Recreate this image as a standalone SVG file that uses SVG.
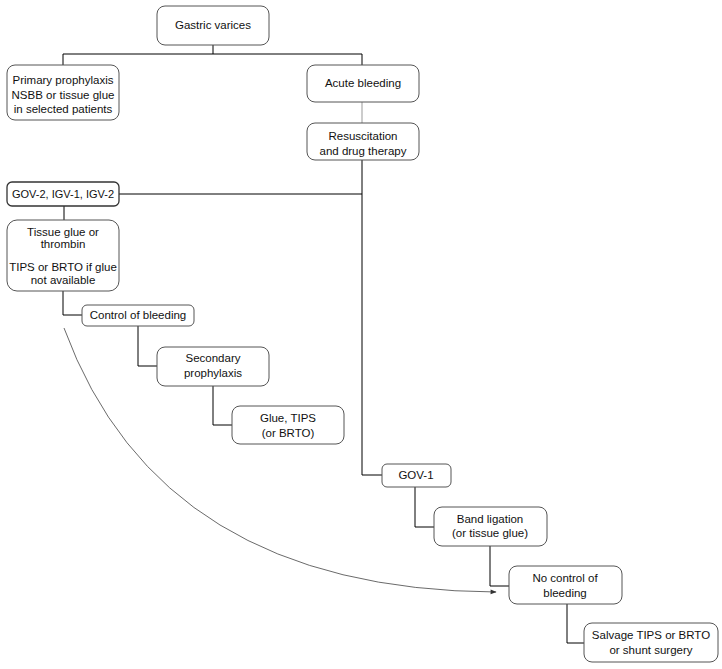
<svg xmlns="http://www.w3.org/2000/svg" width="722" height="669" viewBox="0 0 722 669">
<defs>
<style>
.box{fill:#fff;stroke:#555;stroke-width:1}
.dark{stroke:#333;stroke-width:1.3}
text{font-family:"Liberation Sans",Arial,sans-serif;font-size:11.5px;fill:#111;text-anchor:middle}
.ln{fill:none;stroke:#000;stroke-width:1}
.gray{stroke:#999}
.curve{fill:none;stroke:#444;stroke-width:0.8}
</style>
<marker id="arr" viewBox="0 0 10 10" refX="9" refY="5" markerWidth="8" markerHeight="6" orient="auto" markerUnits="userSpaceOnUse">
<path d="M0,1 L10,5 L0,9 Z" fill="#333"/>
</marker>
</defs>
<rect width="722" height="669" fill="#fff"/>
<g id="connectors">
<path class="ln" d="M213,45 V54 M63,54 H362 M63,54 V65 M362,54 V65"/>
<path class="ln gray" d="M362,102 V123"/>
<path class="ln" d="M362,160 V475 H382 M119,194 H362"/>
<path class="ln" d="M64,206 V220"/>
<path class="ln" d="M63,291 V315 H82"/>
<path class="ln" d="M138,326 V366 H157"/>
<path class="ln" d="M213,386 V425 H232"/>
<path class="ln" d="M415,487 V527 H434"/>
<path class="ln" d="M490,546 V586 H509"/>
<path class="ln" d="M567,604 V643 H584"/>
<path class="curve" d="M64,328 Q160,590 496,592" marker-end="url(#arr)"/>
</g>
<g id="gastric"><rect class="box" x="157" y="6" width="112" height="39" rx="8"/><text x="213" y="29">Gastric varices</text></g>
<g id="primary"><rect class="box" x="7" y="65" width="112" height="55" rx="8"/>
<text x="63" y="84">Primary prophylaxis</text><text x="63" y="99">NSBB or tissue glue</text><text x="63" y="113">in selected patients</text></g>
<g id="acute"><rect class="box" x="307" y="65" width="112" height="37" rx="8"/><text x="363" y="87">Acute bleeding</text></g>
<g id="resus"><rect class="box" x="307" y="123" width="112" height="37" rx="8"/><text x="363" y="140">Resuscitation</text><text x="363" y="155">and drug therapy</text></g>
<g id="gov2"><rect class="box dark" x="7" y="182" width="112" height="24" rx="5"/><text x="63" y="198" style="font-size:11px">GOV-2, IGV-1, IGV-2</text></g>
<g id="tissue"><rect class="box" x="7" y="220" width="112" height="71" rx="10"/>
<text x="63" y="236">Tissue glue or</text><text x="63" y="248">thrombin</text><text x="63" y="271">TIPS or BRTO if glue</text><text x="63" y="284">not available</text></g>
<g id="control"><rect class="box" x="82" y="305" width="112" height="21" rx="5"/><text x="138" y="319">Control of bleeding</text></g>
<g id="secondary"><rect class="box" x="157" y="347" width="112" height="39" rx="8"/><text x="213" y="362">Secondary</text><text x="213" y="377">prophylaxis</text></g>
<g id="gluetips"><rect class="box" x="232" y="406" width="112" height="38" rx="8"/><text x="288" y="422">Glue, TIPS</text><text x="288" y="437">(or BRTO)</text></g>
<g id="gov1"><rect class="box" x="382" y="464" width="69" height="23" rx="5"/><text x="416" y="479">GOV-1</text></g>
<g id="band"><rect class="box" x="434" y="507" width="113" height="39" rx="8"/><text x="490" y="523">Band ligation</text><text x="490" y="537">(or tissue glue)</text></g>
<g id="nocontrol"><rect class="box" x="509" y="566" width="113" height="38" rx="8"/><text x="565" y="582">No control of</text><text x="565" y="597">bleeding</text></g>
<g id="salvage"><rect class="box" x="584" y="623" width="134" height="39" rx="8"/><text x="651" y="639">Salvage TIPS or BRTO</text><text x="651" y="654">or shunt surgery</text></g>
</svg>
